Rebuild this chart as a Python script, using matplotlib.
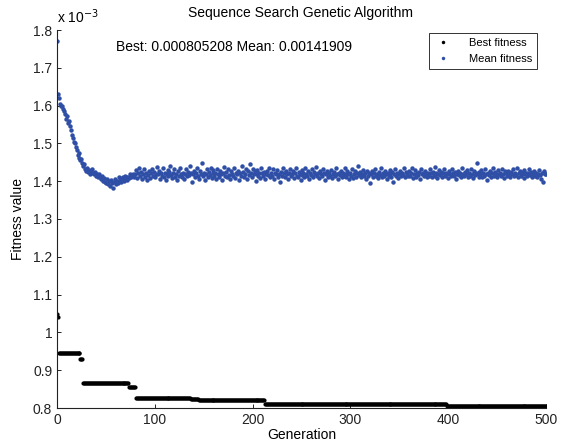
import numpy as np
import matplotlib
matplotlib.use("Agg")
import matplotlib.pyplot as plt
from matplotlib.lines import Line2D

plt.rcParams['font.family'] = ['Liberation Sans', 'DejaVu Sans']

# Best fitness: step levels (x1e-3) and the generation where each level starts
best_levels = [1.050, 1.042, 0.945, 0.930, 0.865, 0.855, 0.826, 0.823, 0.820, 0.810, 0.805208]
best_starts = [0, 1, 2, 24, 27, 74, 81, 137, 145, 213, 399]
n_gen = 501

# Mean fitness per generation (in units of 1e-6)
mean_vals = [
1771,1632,1620,1605,1598,1600,1590,1585,1578,1565,1572,1555,1560,1545,1535,1522,1515,1505,1500,1490,
1482,1470,1475,1462,1455,1460,1448,1440,1445,1432,1428,1435,1425,1430,1420,1428,1432,1422,1418,1425,
1415,1420,1410,1418,1412,1405,1415,1400,1408,1398,1395,1405,1392,1400,1388,1402,1395,1383,1398,1405,
1392,1400,1395,1410,1402,1398,1408,1412,1400,1405,1415,1410,1402,1412,1408,1418,1410,1415,1420,1412,
1418,1429,1408,1421,1434,1413,1424,1405,1420,1431,1412,1423,1402,1416,1426,1408,1421,1432,1415,1424,
1410,1420,1437,1418,1428,1407,1421,1415,1434,1412,1423,1404,1418,1429,1413,1424,1439,1416,1408,1421,
1431,1412,1420,1402,1426,1415,1436,1418,1410,1423,1405,1420,1432,1413,1424,1416,1440,1421,1399,1418,
1428,1410,1421,1434,1415,1407,1426,1418,1448,1413,1423,1404,1420,1431,1412,1424,1416,1436,1408,1421,
1429,1415,1421,1407,1432,1418,1412,1426,1420,1402,1423,1437,1413,1424,1410,1431,1416,1405,1428,1420,
1413,1434,1408,1423,1418,1428,1404,1421,1415,1439,1424,1412,1420,1432,1407,1426,1416,1445,1421,1410,
1431,1418,1426,1400,1420,1429,1415,1423,1408,1434,1421,1413,1424,1405,1418,1428,1416,1436,1410,1421,
1415,1432,1407,1423,1418,1429,1412,1420,1397,1424,1415,1434,1421,1410,1428,1418,1405,1423,1431,1413,
1420,1426,1408,1421,1436,1415,1412,1424,1418,1404,1429,1416,1423,1410,1434,1420,1413,1428,1407,1421,
1416,1431,1410,1424,1418,1437,1415,1421,1408,1428,1420,1413,1432,1423,1402,1418,1426,1412,1421,1415,
1429,1408,1420,1424,1413,1434,1418,1405,1423,1416,1428,1410,1421,1415,1436,1420,1412,1426,1418,1407,
1423,1415,1431,1408,1420,1428,1412,1421,1439,1416,1424,1410,1418,1429,1413,1421,1407,1426,1415,1423,
1394,1418,1428,1412,1421,1431,1413,1420,1408,1424,1416,1434,1410,1421,1415,1428,1418,1405,1423,1413,
1429,1420,1412,1424,1397,1418,1432,1415,1423,1408,1420,1428,1413,1421,1416,1436,1410,1424,1418,1413,
1426,1415,1421,1434,1408,1420,1429,1412,1423,1416,1424,1407,1431,1418,1421,1413,1428,1420,1410,1423,
1415,1432,1421,1412,1424,1418,1437,1413,1423,1408,1420,1429,1416,1424,1412,1421,1431,1415,1423,1418,
1408,1426,1420,1413,1432,1421,1415,1424,1405,1418,1428,1416,1423,1410,1434,1420,1413,1424,1418,1429,
1412,1421,1415,1431,1420,1408,1426,1416,1423,1447,1418,1412,1424,1420,1429,1410,1421,1415,1432,1418,
1402,1423,1416,1428,1412,1421,1434,1415,1424,1418,1410,1429,1420,1423,1413,1432,1418,1408,1426,1421,
1415,1428,1420,1412,1424,1418,1431,1413,1423,1416,1434,1410,1421,1428,1415,1420,1424,1408,1429,1418,
1423,1413,1421,1431,1416,1424,1412,1420,1428,1415,1421,1410,1418,1429,1416,1405,1423,1399,1426,1418,
1419,
]

x_ticks = [0, 100, 200, 300, 400, 500]
y_ticks = [0.8, 0.9, 1.0, 1.1, 1.2, 1.3, 1.4, 1.5, 1.6, 1.7, 1.8]
y_ticklabels = ['0.8', '0.9', '1', '1.1', '1.2', '1.3', '1.4', '1.5', '1.6', '1.7', '1.8']

gens = np.arange(n_gen)
bounds = best_starts[1:] + [n_gen]
best = np.concatenate([np.full(e - s, v) for s, e, v in zip(best_starts, bounds, best_levels)])
mean = np.array(mean_vals) / 1000.0

W, H = 566, 447
fig = plt.figure(figsize=(W / 100, H / 100), dpi=100)
ax = fig.add_axes([57 / W, 1 - 408 / H, (546 - 57) / W, (408 - 30) / H])

blue = '#2f4fa6'
ax.plot(gens, best, linestyle='none', marker='o', markersize=3.0, color='black', markeredgewidth=0)
ax.plot(gens, mean, linestyle='none', marker='o', markersize=3.2, color=blue, markeredgewidth=0)

ax.set_xlim(0, 500)
ax.set_ylim(0.8, 1.8)
ax.set_xticks(x_ticks)
ax.set_yticks(y_ticks)
ax.set_yticklabels(y_ticklabels)
ax.tick_params(direction='in', labelsize=10, length=3, width=0.7, colors='#222222')
for s in ['top', 'right']:
    ax.spines[s].set_visible(False)
for s in ['left', 'bottom']:
    ax.spines[s].set_linewidth(0.8)
    ax.spines[s].set_color('#222222')

ax.set_xlabel('Generation', fontsize=10, labelpad=1)
ax.set_ylabel('Fitness value', fontsize=10, labelpad=6)
fig.text(301 / W, 1 - 13 / H, 'Sequence Search Genetic Algorithm', ha='center', va='center', fontsize=10)
fig.text(57 / W, 1 - 17 / H, r'x 10$^{-3}$', ha='left', va='center', fontsize=10)
fig.text(116 / W, 1 - 47 / H, 'Best: 0.000805208 Mean: 0.00141909',
         ha='left', va='center', fontsize=10)

handles = [Line2D([], [], linestyle='none', marker='o', markersize=2.5, color='black', markeredgewidth=0),
           Line2D([], [], linestyle='none', marker='o', markersize=2.5, color=blue, markeredgewidth=0)]
leg = ax.legend(handles, ['Best fitness', 'Mean fitness'], loc='upper right',
                bbox_to_anchor=(537 / W, 1 - 33 / H), bbox_transform=fig.transFigure,
                fontsize=8, frameon=True, fancybox=False, borderpad=0.45, handletextpad=1.6,
                labelspacing=0.55, handlelength=1.5, borderaxespad=0)
leg.get_frame().set_edgecolor('black')
leg.get_frame().set_linewidth(0.7)

fig.savefig('out.png', dpi=100)
